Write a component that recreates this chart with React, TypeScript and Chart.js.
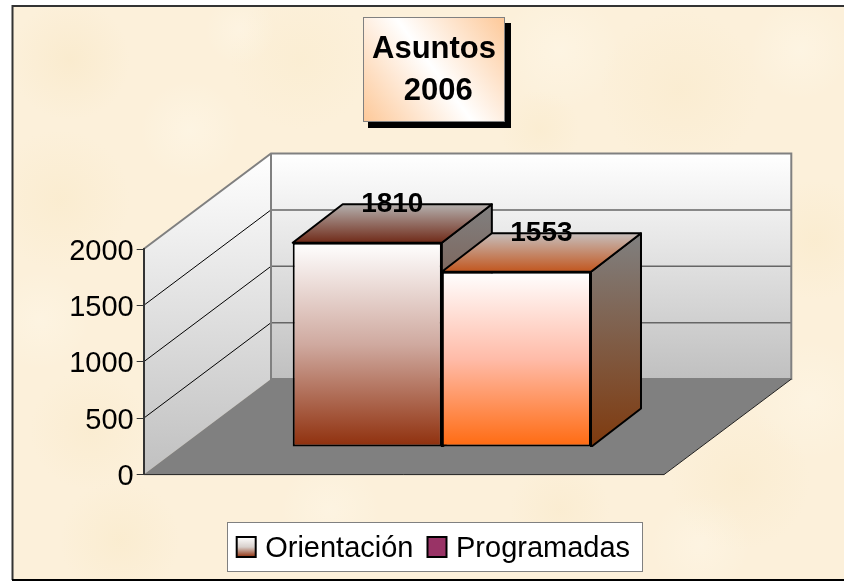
import React, { useEffect, useRef } from "react";
import { Chart, registerables } from "chart.js";

Chart.register(...registerables);

const categories = ["2006"];
const seriesNames = ["Orientación", "Programadas"];
const orientacion = [1810];
const programadas = [1553];
const yTicks = [0, 500, 1000, 1500, 2000];
const titleLines = ["Asuntos", " 2006"];

const FONT = "'Liberation Sans', Arial, sans-serif";
const W = 844;
const H = 581;
// wall / floor depth and bar placement on the floor
const DEPTH_X = 127.3;
const DEPTH_Y = -95.5;
const BAR_SHIFT_X = 38;
const BAR_SHIFT_Y = -27.6;
const BAR_DX = 50;
const BAR_DY = -38.5;

const faces = [
  { front: ["#ffffff", "#cfa99f", "#8f2f0c"], side: ["#808080", "#7a2a0a"], top: ["#b4b0ae", "#702a18"] },
  { front: ["#ffffff", "#ffbba8", "#ff6a10"], side: ["#808080", "#7f3a0e"], top: ["#c6bebc", "#c2561e"] },
];

const blobs: [number, number, number, string][] = [
  [70, 60, 60, "rgba(245,224,180,0.3)"], [190, 130, 50, "rgba(255,250,238,0.4)"], [300, 60, 70, "rgba(248,230,190,0.25)"],
  [560, 50, 60, "rgba(255,250,238,0.4)"], [680, 90, 80, "rgba(246,226,184,0.25)"], [800, 50, 50, "rgba(255,250,238,0.4)"],
  [60, 200, 70, "rgba(247,228,186,0.3)"], [40, 320, 50, "rgba(255,250,238,0.35)"], [90, 430, 60, "rgba(246,226,184,0.25)"],
  [815, 240, 60, "rgba(247,228,186,0.3)"], [810, 400, 60, "rgba(255,250,238,0.35)"], [740, 480, 70, "rgba(246,226,184,0.25)"],
  [120, 540, 60, "rgba(247,228,186,0.3)"], [330, 510, 50, "rgba(255,250,238,0.35)"], [560, 510, 50, "rgba(246,226,184,0.25)"],
  [700, 545, 50, "rgba(255,250,238,0.35)"], [540, 130, 40, "rgba(247,228,186,0.25)"], [240, 30, 35, "rgba(255,250,238,0.35)"],
];

const linear = (ctx: CanvasRenderingContext2D, y0: number, y1: number, stops: string[]) => {
  const g = ctx.createLinearGradient(0, y0, 0, y1);
  stops.forEach((c, i) => g.addColorStop(i / (stops.length - 1), c));
  return g;
};

const poly = (ctx: CanvasRenderingContext2D, pts: number[][]) => {
  ctx.beginPath();
  pts.forEach((p, i) => (i ? ctx.lineTo(p[0], p[1]) : ctx.moveTo(p[0], p[1])));
  ctx.closePath();
};

const scene = {
  id: "scene",
  afterLayout(chart: any) {
    const { titleBlock: title, legend } = chart;
    title.left = 363;
    title.right = 505;
    title.top = 29;
    title.bottom = 112;
    legend.left = 222.7;
    legend.right = 760;
    legend.top = 521;
    legend.bottom = 581;
  },
  beforeDraw(chart: any) {
    const { ctx, chartArea: a, scales } = chart;
    const y = scales.y;
    ctx.save();
    ctx.fillStyle = "#ffffff";
    ctx.fillRect(0, 0, W, H);
    // parchment
    ctx.save();
    ctx.beginPath();
    ctx.rect(13, 6, W - 13, 573);
    ctx.clip();
    ctx.fillStyle = "#fcf0da";
    ctx.fillRect(0, 0, W, H);
    blobs.forEach(([bx, by, r, c]) => {
      const g = ctx.createRadialGradient(bx, by, 0, bx, by, r);
      g.addColorStop(0, c);
      g.addColorStop(1, c.replace(/[\d.]+\)$/, "0)"));
      ctx.fillStyle = g;
      ctx.fillRect(bx - r, by - r, 2 * r, 2 * r);
    });
    ctx.restore();
    // frame
    ctx.strokeStyle = "#333333";
    ctx.lineWidth = 2;
    ctx.beginPath();
    ctx.moveTo(W, 6);
    ctx.lineTo(12.5, 6);
    ctx.lineTo(12.5, 580);
    ctx.stroke();
    ctx.strokeStyle = "#000000";
    ctx.beginPath();
    ctx.moveTo(12, 580);
    ctx.lineTo(W, 580);
    ctx.stroke();

    // title box
    ctx.fillStyle = "#000000";
    ctx.fillRect(368, 23, 143, 105);
    const tg = ctx.createLinearGradient(363, 122, 505, 17);
    tg.addColorStop(0, "#fdc898");
    tg.addColorStop(0.5, "#ffffff");
    tg.addColorStop(1, "#fdc898");
    ctx.fillStyle = tg;
    ctx.fillRect(363, 17, 142, 105);
    ctx.strokeStyle = "#808080";
    ctx.lineWidth = 1;
    ctx.strokeRect(363.5, 17.5, 141, 104);

    // walls and floor, built on the value scale
    const y0 = y.getPixelForValue(0);
    const yTop = y.getPixelForValue(2000);
    const L = a.left;
    const R = a.right;
    const bL = L + DEPTH_X;
    const bR = R + DEPTH_X;

    poly(ctx, [[L, y0], [L, yTop], [bL, yTop + DEPTH_Y], [bL, y0 + DEPTH_Y]]);
    ctx.fillStyle = linear(ctx, yTop + DEPTH_Y, y0, ["#ffffff", "#c0c0c0"]);
    ctx.fill();

    ctx.fillStyle = linear(ctx, yTop + DEPTH_Y, y0 + DEPTH_Y, ["#ffffff", "#c0c0c0"]);
    ctx.fillRect(bL, yTop + DEPTH_Y, bR - bL, y0 - yTop);

    poly(ctx, [[L, y0], [R, y0], [bR, y0 + DEPTH_Y], [bL, y0 + DEPTH_Y]]);
    ctx.fillStyle = "#808080";
    ctx.fill();

    yTicks.forEach((v) => {
      const py = y.getPixelForValue(v);
      if (v > 0 && v < 2000) {
        ctx.strokeStyle = "#000000";
        ctx.lineWidth = 1;
        ctx.beginPath();
        ctx.moveTo(L, py);
        ctx.lineTo(bL, py + DEPTH_Y);
        ctx.stroke();
        ctx.strokeStyle = "#666666";
        ctx.lineWidth = 1.5;
        ctx.beginPath();
        ctx.moveTo(bL, py + DEPTH_Y);
        ctx.lineTo(bR, py + DEPTH_Y);
        ctx.stroke();
      }
    });

    ctx.strokeStyle = "#808080";
    ctx.lineWidth = 2;
    ctx.beginPath();
    ctx.moveTo(L, yTop);
    ctx.lineTo(bL, yTop + DEPTH_Y);
    ctx.lineTo(bR, yTop + DEPTH_Y);
    ctx.lineTo(bR, y0 + DEPTH_Y);
    ctx.lineTo(bL, y0 + DEPTH_Y);
    ctx.lineTo(bL, yTop + DEPTH_Y);
    ctx.stroke();

    ctx.strokeStyle = "#222222";
    ctx.lineWidth = 1;
    ctx.beginPath();
    ctx.moveTo(L, y0);
    ctx.lineTo(R, y0);
    ctx.lineTo(bR, y0 + DEPTH_Y);
    ctx.stroke();

    // legend box
    ctx.fillStyle = "#ffffff";
    ctx.fillRect(227, 522, 416, 50);
    ctx.strokeStyle = "#808080";
    ctx.lineWidth = 1;
    ctx.strokeRect(227.5, 522.5, 415, 49);
    ctx.restore();
  },
  beforeDatasetsDraw(chart: any) {
    // side and top faces of the boxes, left box first so the right box overlaps it
    const { ctx, scales } = chart;
    const floorY = scales.y.getPixelForValue(0) + BAR_SHIFT_Y;
    ctx.save();
    ctx.beginPath();
    ctx.rect(0, 0, W, floorY);
    ctx.clip();
    ctx.strokeStyle = "#000000";
    ctx.lineWidth = 2;
    ctx.lineJoin = "round";
    chart.data.datasets.forEach((_: any, i: number) => {
      const el = chart.getDatasetMeta(i).data[0];
      const f = faces[i];
      const left = el.x - el.width / 2 + BAR_SHIFT_X;
      const right = el.x + el.width / 2 + BAR_SHIFT_X;
      const top = el.y + BAR_SHIFT_Y;
      poly(ctx, [[right, top], [right + BAR_DX, top + BAR_DY], [right + BAR_DX, floorY + BAR_DY], [right, floorY]]);
      ctx.fillStyle = linear(ctx, top + BAR_DY, floorY, f.side);
      ctx.fill();
      ctx.stroke();
      poly(ctx, [[left, top], [left + BAR_DX, top + BAR_DY], [right + BAR_DX, top + BAR_DY], [right, top]]);
      ctx.fillStyle = linear(ctx, top + BAR_DY, top, f.top);
      ctx.fill();
      ctx.stroke();
    });
    ctx.restore();
  },
  beforeDatasetDraw(chart: any) {
    chart.ctx.save();
    chart.ctx.translate(BAR_SHIFT_X, BAR_SHIFT_Y);
  },
  afterDatasetDraw(chart: any) {
    chart.ctx.restore();
  },
  afterDatasetsDraw(chart: any) {
    const { ctx } = chart;
    ctx.save();
    ctx.font = `bold 28px ${FONT}`;
    ctx.fillStyle = "#000000";
    ctx.textAlign = "center";
    ctx.textBaseline = "middle";
    chart.data.datasets.forEach((ds: any, i: number) => {
      const el = chart.getDatasetMeta(i).data[0];
      ctx.fillText(String(ds.data[0]), el.x + BAR_SHIFT_X + BAR_DX / 2, el.y + BAR_SHIFT_Y + BAR_DY);
    });
    ctx.restore();
  },
  afterDraw(chart: any) {
    // legend swatches, 19 wide, at the start of each legend entry
    const { ctx, legend } = chart;
    ctx.save();
    let x = 236.7;
    legend.legendHitBoxes.forEach((box: any, i: number) => {
      ctx.fillStyle = i === 0 ? linear(ctx, 537, 557, ["#ffffff", "#d8d0cc", "#8f2f0c"]) : "#993366";
      ctx.fillRect(x, 537, 19, 20);
      ctx.strokeStyle = "#000000";
      ctx.lineWidth = 2;
      ctx.strokeRect(x, 537, 19, 20);
      x += box.width + 13;
    });
    ctx.restore();
  },
};

export default function App() {
  const ref = useRef<HTMLCanvasElement>(null);
  useEffect(() => {
    const bg = (i: number, values: number[]) => (c: any) => {
      const y = c.chart.scales.y;
      const y0 = y ? y.getPixelForValue(values[0]) : NaN;
      const y1 = y ? y.getPixelForValue(0) : NaN;
      if (!Number.isFinite(y0) || !Number.isFinite(y1)) return faces[i].front[2];
      return linear(c.chart.ctx, y0, y1, faces[i].front);
    };
    const chart = new Chart(ref.current as HTMLCanvasElement, {
      type: "bar",
      data: {
        labels: categories,
        datasets: [
          {
            label: seriesNames[0],
            data: orientacion,
            clip: false,
            backgroundColor: bg(0, orientacion),
            borderColor: "#000000",
            borderWidth: 2,
            borderSkipped: false,
            categoryPercentage: 0.5733,
            barPercentage: 1,
          },
          {
            label: seriesNames[1],
            data: programadas,
            clip: false,
            backgroundColor: bg(1, programadas),
            borderColor: "#000000",
            borderWidth: 2,
            borderSkipped: false,
            categoryPercentage: 0.5733,
            barPercentage: 1,
          },
        ] as any,
      },
      options: {
        responsive: false,
        animation: false,
        events: [],
        layout: { padding: { left: 0, right: 180, top: 166, bottom: 54.4 } },
        scales: {
          x: { display: false, stacked: false },
          y: {
            min: 0,
            max: 2000,
            ticks: {
              stepSize: 500,
              color: "#000000",
              font: { family: FONT, size: 29 },
              padding: 3,
              labelOffset: 2.5,
              callback: (v: any) => String(v),
            },
            grid: { drawOnChartArea: false, drawTicks: true, tickLength: 7, color: "#333333", lineWidth: 1 },
            border: { color: "#333333", width: 2 },
            afterFit: (axis: any) => {
              axis.width = 143.7;
              axis.paddingTop = 0;
              axis.paddingBottom = 0;
            },
          },
        },
        plugins: {
          tooltip: { enabled: false },
          title: {
            display: true,
            text: titleLines,
            color: "#000000",
            position: "top",
            padding: 0,
            font: { family: FONT, size: 31, weight: "bold", lineHeight: 41.5 / 31 },
          },
          legend: {
            display: true,
            position: "bottom",
            align: "start",
            labels: {
              boxWidth: 15,
              boxHeight: 15,
              padding: 13,
              color: "#000000",
              font: { family: FONT, size: 29 },
              generateLabels: (c: any) =>
                (Chart.defaults.plugins.legend.labels.generateLabels as any)(c).map((l: any) => ({
                  ...l,
                  fillStyle: "rgba(0,0,0,0)",
                  strokeStyle: "rgba(0,0,0,0)",
                  lineWidth: 0,
                })),
            },
          },
        },
      } as any,
      plugins: [scene as any],
    });
    return () => chart.destroy();
  }, []);
  return (
    <canvas
      ref={ref}
      width={W}
      height={H}
      style={{ position: "absolute", left: 0, top: 0, width: W, height: H, display: "block" }}
    />
  );
}
